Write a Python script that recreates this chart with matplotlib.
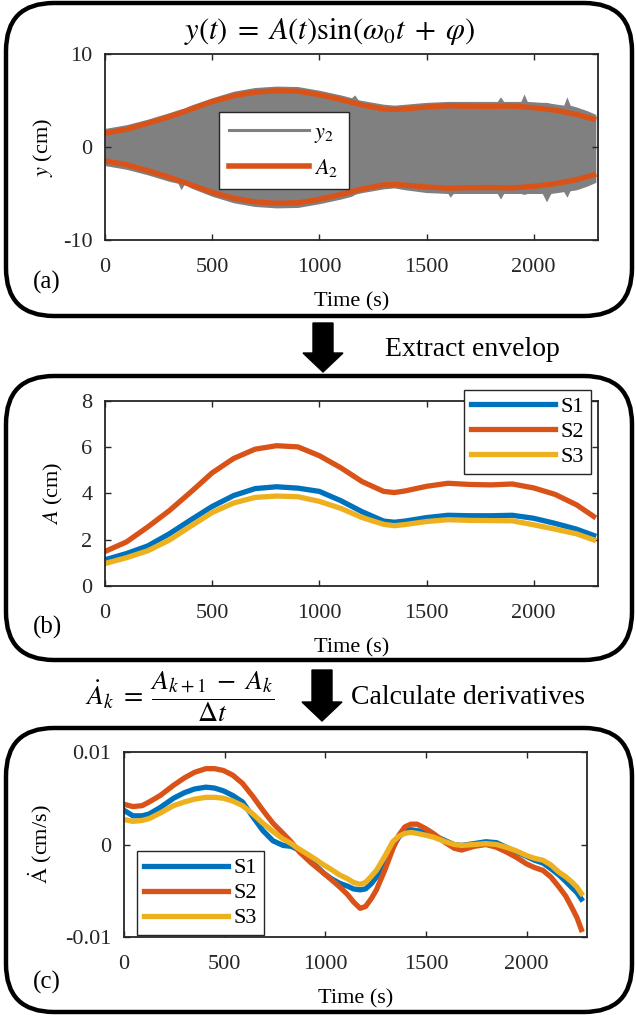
import matplotlib
matplotlib.use("Agg")
import matplotlib.pyplot as plt
from matplotlib.patches import FancyBboxPatch, Polygon
from matplotlib.lines import Line2D

plt.rcParams['font.family'] = 'serif'
plt.rcParams['font.serif'] = ['Liberation Serif', 'DejaVu Serif']
plt.rcParams['mathtext.fontset'] = 'stix'
plt.rcParams['axes.unicode_minus'] = False

BLUE = '#0072BD'
ORANGE = '#D95319'
YELLOW = '#EDB120'
GRAY = '#808080'

# (a) raw signal: visible extent of the gray band
t_gray = [0, 100, 200, 300, 340, 355, 370, 400, 500, 600, 700, 800, 900,
          1000, 1100, 1150, 1165, 1180, 1200, 1300, 1350, 1400, 1500, 1600,
          1610, 1625, 1700, 1800, 1830, 1845, 1860, 1900, 1940, 1955, 1970,
          2040, 2060, 2080, 2140, 2155, 2170, 2200, 2250, 2290]
y2_upper = [2.0, 2.4, 3.0, 3.7, 4.0, 4.1, 4.2, 4.5, 5.3, 6.0, 6.4, 6.55,
            6.5, 6.1, 5.6, 5.3, 5.6, 5.1, 5.0, 4.6, 4.5, 4.6, 4.8, 4.9,
            4.9, 4.9, 4.9, 4.9, 4.9, 5.4, 4.9, 4.9, 4.9, 5.7, 4.9, 4.8,
            4.8, 4.7, 4.5, 5.4, 4.5, 4.3, 3.9, 3.5]
y2_lower = [-2.0, -2.4, -3.0, -3.7, -3.9, -4.6, -4.0, -4.4, -5.3, -6.0,
            -6.4, -6.55, -6.5, -6.1, -5.6, -5.3, -5.1, -5.0, -4.9, -4.5,
            -4.4, -4.6, -4.9, -5.0, -5.4, -5.0, -5.0, -5.0, -5.0, -5.6,
            -5.0, -5.0, -5.0, -5.1, -5.0, -5.0, -5.9, -5.0, -4.8, -5.4,
            -4.7, -4.6, -4.2, -3.8]

# (b) envelopes
t_env = [0, 100, 200, 300, 400, 500, 600, 700, 800, 900, 1000, 1100, 1200,
         1300, 1350, 1400, 1500, 1600, 1700, 1800, 1900, 2000, 2100, 2200, 2280]
A_s1 = [1.13, 1.4, 1.73, 2.25, 2.85, 3.43, 3.9, 4.2, 4.28, 4.22, 4.08, 3.68,
        3.2, 2.8, 2.75, 2.8, 2.95, 3.05, 3.03, 3.03, 3.05, 2.92, 2.7, 2.45, 2.18]
A_s2 = [1.49, 1.9, 2.55, 3.25, 4.05, 4.88, 5.5, 5.9, 6.05, 6.0, 5.62, 5.1,
        4.5, 4.08, 4.03, 4.1, 4.3, 4.43, 4.38, 4.36, 4.4, 4.23, 3.95, 3.5, 3.0]
A_s3 = [0.97, 1.22, 1.52, 1.98, 2.58, 3.17, 3.58, 3.82, 3.88, 3.85, 3.65, 3.35,
        2.95, 2.66, 2.6, 2.65, 2.78, 2.86, 2.83, 2.82, 2.81, 2.64, 2.45, 2.25, 1.99]

# (c) derivatives
t_der = [0, 44, 90, 125, 180, 246, 300, 350, 407, 450, 494, 540, 589, 640,
         690, 740, 790, 830, 871, 930, 992, 1030, 1072, 1110, 1140, 1173,
         1200, 1230, 1254, 1295, 1335, 1365, 1395, 1425, 1456, 1500, 1536,
         1597, 1640, 1677, 1740, 1798, 1850, 1899, 1950, 2000, 2040, 2081,
         2120, 2161, 2195, 2222, 2250, 2272]
dA_s1 = [0.0037, 0.0031, 0.0031, 0.0033, 0.0040, 0.0050, 0.0056, 0.0060,
         0.0062, 0.0061, 0.0058, 0.0053, 0.0046, 0.0030, 0.0015, 0.0004,
         -0.0001, -0.0002, -0.0006, -0.0018, -0.0031, -0.0037, -0.0042,
         -0.0045, -0.0048, -0.0049, -0.0048, -0.0042, -0.0035, -0.0021,
         -0.0003, 0.0008, 0.0014, 0.0016, 0.0015, 0.0013, 0.0010, 0.0004,
         0.0000, -0.0001, 0.0001, 0.0003, 0.0002, -0.0003, -0.0008, -0.0013,
         -0.0017, -0.0020, -0.0026, -0.0033, -0.0040, -0.0046, -0.0052,
         -0.0059]
dA_s2 = [0.00435, 0.0041, 0.0042, 0.0046, 0.0053, 0.0064, 0.0072, 0.0078,
         0.0082, 0.0082, 0.0080, 0.0075, 0.0066, 0.0052, 0.0037, 0.0023,
         0.0012, 0.0003, -0.0008, -0.0020, -0.0031, -0.0038, -0.0046,
         -0.0054, -0.0062, -0.0069, -0.0067, -0.0058, -0.0049, -0.0028,
         -0.0005, 0.0010, 0.0019, 0.0022, 0.0022, 0.0017, 0.0012, 0.0002,
         -0.0004, -0.0006, -0.0002, 0.0000, -0.0003, -0.0008, -0.0014,
         -0.0021, -0.0025, -0.0028, -0.0035, -0.0046, -0.0056, -0.0067,
         -0.0079, -0.0092]
dA_s3 = [0.0027, 0.0025, 0.0026, 0.0028, 0.0034, 0.0042, 0.0046, 0.0049,
         0.0051, 0.0051, 0.0050, 0.0047, 0.0042, 0.0033, 0.0023, 0.0014,
         0.0006, 0.0001, -0.0005, -0.0013, -0.0022, -0.0027, -0.0033,
         -0.0037, -0.0041, -0.0043, -0.0041, -0.0034, -0.0028, -0.0013,
         0.0003, 0.0009, 0.0012, 0.0013, 0.0012, 0.0010, 0.0008, 0.0003,
         0.0000, -0.0001, 0.0000, 0.0001, 0.0000, -0.0003, -0.0007, -0.0012,
         -0.0015, -0.0017, -0.0022, -0.0030, -0.0035, -0.0040, -0.0046,
         -0.0053]

W, H = 636, 1018
fig = plt.figure(figsize=(W / 100, H / 100), dpi=100)

# background layer in pixel units for boxes, arrows and captions
bg = fig.add_axes([0, 0, 1, 1])
bg.set_xlim(0, W)
bg.set_ylim(H, 0)
bg.axis('off')

for y0, y1 in [(3, 316), (376, 660), (728, 1012)]:
    bg.add_patch(FancyBboxPatch((6, y0), 626, y1 - y0,
                                boxstyle="round,pad=0,rounding_size=48",
                                fc='white', ec='black', lw=3.2))


def arrow(xc, top, neck, tip):
    pts = [(xc - 10, top), (xc + 10, top), (xc + 10, neck), (xc + 20, neck),
           (xc, tip), (xc - 20, neck), (xc - 10, neck)]
    bg.add_patch(Polygon(pts, closed=True, fc='black', ec='black'))


arrow(323, 323, 353, 372)
arrow(322, 670, 702, 721)

bg.text(330, 31, r'$y(t)\;=\;A(t)\mathrm{sin}(\omega_0 t\;+\;\varphi)$',
        fontsize=22, ha='center', va='center')
bg.text(385, 349, 'Extract envelop', fontsize=20, ha='left', va='center')
bg.text(351, 697, 'Calculate derivatives', fontsize=20, ha='left', va='center')
bg.text(180, 697, r'$\dot{A}_k\;=\;\dfrac{A_{k+1}\;-\;A_k}{\mathit{\Delta} t}$',
        fontsize=20, ha='center', va='center')
for lab, yy in [('(a)', 282), ('(b)', 627), ('(c)', 982)]:
    bg.text(47, yy, lab, fontsize=18, ha='center', va='center')


def make_axes(left, right, top, bottom):
    ax = fig.add_axes([left / W, 1 - bottom / H, (right - left) / W,
                       (bottom - top) / H])
    ax.tick_params(direction='in', top=True, right=True, labelsize=16,
                   length=4, width=1.0, colors='#262626')
    ax.tick_params(axis='x', pad=13)
    ax.tick_params(axis='y', pad=9)
    for s in ax.spines.values():
        s.set_linewidth(1.3)
        s.set_color('#262626')
    ax.set_xlim(0, 2300)
    ax.set_xticks([0, 500, 1000, 1500, 2000])
    ax.set_xlabel('Time (s)', fontsize=16, labelpad=11)
    return ax


leg_kw = dict(fancybox=False, framealpha=1, edgecolor='#262626',
              borderaxespad=0)

# (a)
ax1 = make_axes(105, 598, 54, 240)
ax1.fill_between(t_gray, y2_lower, y2_upper, color=GRAY, lw=0)
ax1.plot(t_env, A_s2, color=ORANGE, lw=3.8)
ax1.plot(t_env, [-v for v in A_s2], color=ORANGE, lw=3.8)
ax1.set_ylim(-10, 10)
ax1.set_yticks([-10, 0, 10], ['-10', '0', '10'])
ax1.set_ylabel(r'$y$ (cm)', fontsize=16, labelpad=6)
handles = [Line2D([], [], color=GRAY, lw=2.2), Line2D([], [], color=ORANGE, lw=4)]
ax1.legend(handles, [r'$y_2$', r'$A_2$'], loc='upper left',
           bbox_to_anchor=(0.231, 0.688), fontsize=16, handlelength=3.6,
           labelspacing=0.55, borderpad=0.45, handletextpad=0.25, **leg_kw)

# (b)
ax2 = make_axes(105, 598, 400.5, 586)
ax2.plot(t_env, A_s1, color=BLUE, lw=3.8, label='S1')
ax2.plot(t_env, A_s2, color=ORANGE, lw=3.8, label='S2')
ax2.plot(t_env, A_s3, color=YELLOW, lw=3.8, label='S3')
ax2.set_ylim(0, 8)
ax2.set_yticks([0, 2, 4, 6, 8])
ax2.set_ylabel(r'$A$ (cm)', fontsize=16, labelpad=12)
ax2.legend(loc='upper right', bbox_to_anchor=(0.986, 1.057), fontsize=16,
           handlelength=3.8, labelspacing=0.2, borderpad=0.3,
           handletextpad=0.25, **leg_kw)

# (c)
ax3 = make_axes(124, 587, 752, 937)
ax3.plot(t_der, dA_s1, color=BLUE, lw=3.8, label='S1')
ax3.plot(t_der, dA_s2, color=ORANGE, lw=3.8, label='S2')
ax3.plot(t_der, dA_s3, color=YELLOW, lw=3.8, label='S3')
ax3.set_ylim(-0.01, 0.01)
ax3.set_yticks([-0.01, 0, 0.01], ['-0.01', '0', '0.01'])
ax3.set_ylabel(r'$\dot{\mathrm{A}}$ (cm/s)', fontsize=16, labelpad=8)
ax3.legend(loc='lower left', bbox_to_anchor=(0.028, 0.01), fontsize=16,
           handlelength=3.8, labelspacing=0.2, borderpad=0.3,
           handletextpad=0.25, **leg_kw)

fig.savefig('out.png', dpi=100)
